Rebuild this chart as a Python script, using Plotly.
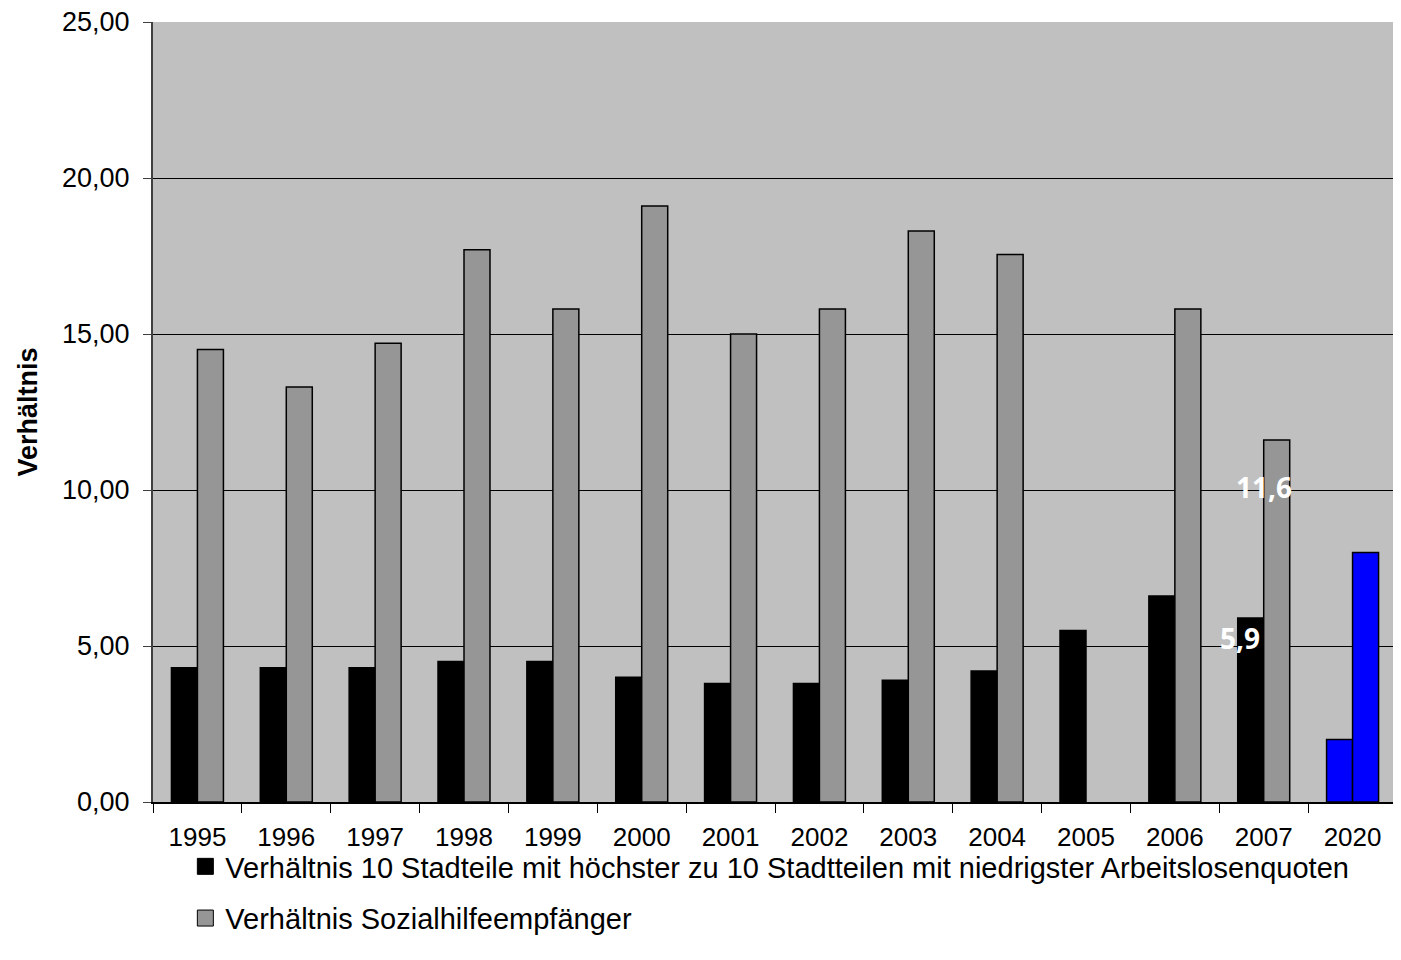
import plotly.graph_objects as go

years = ["1995", "1996", "1997", "1998", "1999", "2000", "2001", "2002", "2003",
         "2004", "2005", "2006", "2007", "2020"]
arbeitslos = [4.3, 4.3, 4.3, 4.5, 4.5, 4.0, 3.8, 3.8, 3.9, 4.2, 5.5, 6.6, 5.9, 2.0]
sozialhilfe = [14.5, 13.3, 14.7, 17.7, 15.8, 19.1, 15.0, 15.8, 18.3, 17.55, None, 15.8, 11.6, 8.0]
name_a = "Verhältnis 10 Stadteile mit höchster zu 10 Stadtteilen mit niedrigster Arbeitslosenquoten"
name_s = "Verhältnis Sozialhilfeempfänger"
y_ticks = [0, 5, 10, 15, 20, 25]

font = "Liberation Sans, Arial, sans-serif"
FS = 27
XFS = 26
LFS = 29

col_a = ["#000000"] * (len(years) - 1) + ["#0000ff"]
col_s = ["#969696"] * (len(years) - 1) + ["#0000ff"]

fig = go.Figure()
fig.add_trace(go.Bar(x=years, y=arbeitslos, name=name_a, showlegend=False,
                     marker=dict(color=col_a, line=dict(color="#000000", width=1.5))))
fig.add_trace(go.Bar(x=years, y=sozialhilfe, name=name_s, showlegend=False,
                     marker=dict(color=col_s, line=dict(color="#000000", width=1.5))))
# legend entries with larger square symbols
fig.add_trace(go.Scatter(x=[None], y=[None], mode="markers", name=name_a, legendgroup="a",
                         marker=dict(symbol="square", size=21, color="#000000",
                                     line=dict(color="#000000", width=1))))
fig.add_trace(go.Scatter(x=[None], y=[None], mode="markers", name=name_s, legendgroup="s",
                         marker=dict(symbol="square", size=21, color="#969696",
                                     line=dict(color="#000000", width=1))))

i07 = years.index("2007")
lab_font = dict(color="white", size=28, family="Open Sans, Liberation Sans")
fig.add_annotation(x=i07, y=sozialhilfe[i07], text="<b>11,6</b>", showarrow=False,
                   xshift=0, yshift=-47, font=lab_font)
fig.add_annotation(x=i07, y=arbeitslos[i07], text="<b>5,9</b>", showarrow=False,
                   xshift=-24, yshift=-20, font=lab_font)

fig.update_layout(
    width=1393, height=952,
    margin=dict(l=145, r=4, t=14, b=158, autoexpand=False),
    paper_bgcolor="white", plot_bgcolor="#c0c0c0",
    barmode="group", bargap=0.415, bargroupgap=0,
    separators=",.",
    font=dict(family=font, size=FS, color="black"),
    showlegend=True,
    legend=dict(orientation="v", x=0.026, xanchor="left", y=-0.05, yanchor="top",
                traceorder="grouped", tracegroupgap=11,
                font=dict(size=LFS, family=font),
                bgcolor="rgba(0,0,0,0)"),
)
fig.update_xaxes(type="category", range=[-0.5, len(years) - 0.5], showgrid=False,
                 showline=True, linecolor="#000000", linewidth=1.5,
                 ticks="outside", tickson="boundaries", ticklen=9, tickcolor="#000000",
                 tickfont=dict(size=XFS), ticklabelstandoff=11, automargin=False)
fig.update_yaxes(range=[0, 25], tickvals=y_ticks, tickformat=".2f",
                 showgrid=True, gridcolor="#000000", gridwidth=1,
                 showline=True, linecolor="#404040", linewidth=2,
                 ticks="outside", ticklen=8, tickcolor="#404040",
                 tickfont=dict(size=FS), ticklabelstandoff=8,
                 ticklabeloverflow="allow", automargin=False,
                 zeroline=False,
                 title=dict(text="<b>Verhältnis</b>", font=dict(size=FS), standoff=17))

fig.write_html("out.html")
